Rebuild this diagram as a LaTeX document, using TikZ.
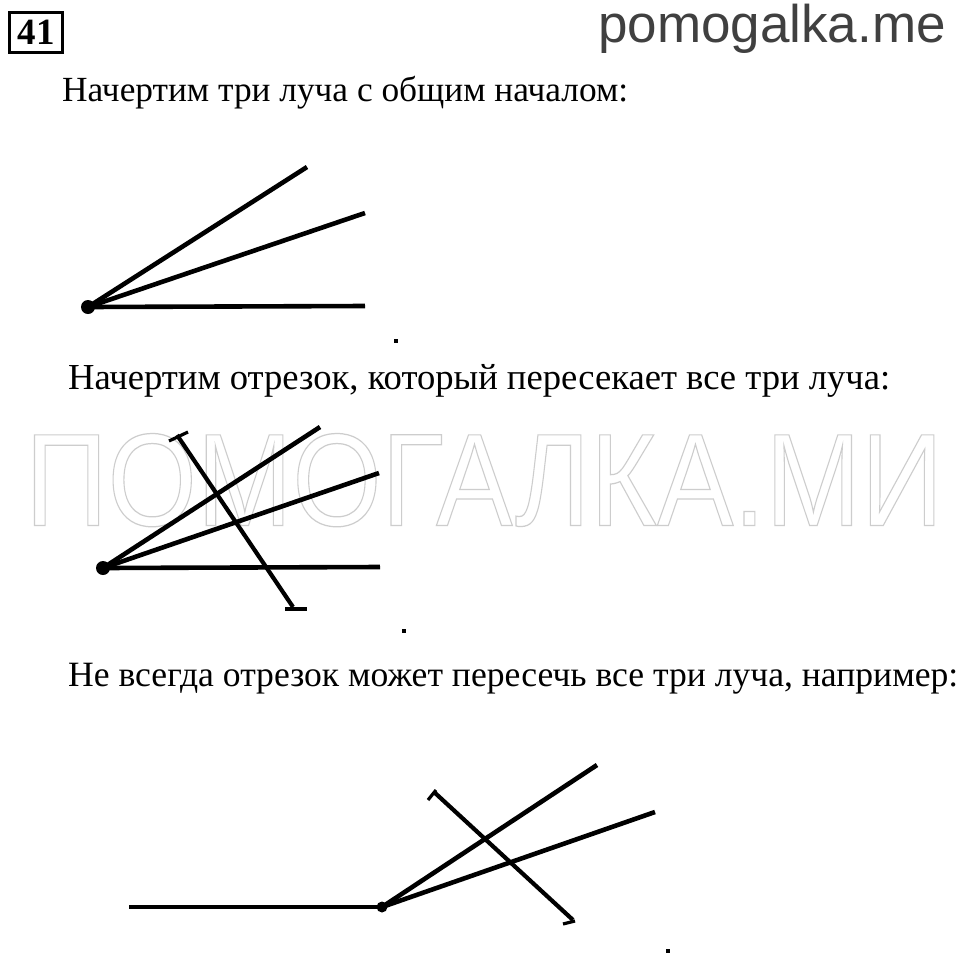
\documentclass[tikz,border=0pt]{standalone}
\usepackage{fontspec}
\setmainfont{Liberation Serif}
\newfontfamily\sitefont{Liberation Sans}
\newfontfamily\wmfont{Liberation Sans}
\definecolor{wmgray}{RGB}{205,205,205}
\definecolor{sitegray}{RGB}{64,64,64}
\begin{document}
\begin{tikzpicture}[x=1pt,y=-1pt,
  ray/.style={line width=4.6pt},
  seg/.style={line width=4.2pt},
  tick/.style={line width=3.2pt},
  pt/.style={rectangle,fill=black,inner sep=0pt,minimum size=4pt},
  origin/.style={circle,fill=black,inner sep=0pt,minimum size=14pt},
  txt/.style={anchor=base west,inner sep=0pt,font=\fontsize{36}{40}\selectfont}]
\fill[white] (0,0) rectangle (960,962);
\useasboundingbox (0,0) rectangle (960,962);
% watermark
\node[anchor=south west,inner sep=0pt,text=wmgray] (wm) at (25,527)
  {\resizebox{918pt}{92pt}{\wmfont\fontsize{128}{128}\selectfont\special{pdf:literal direct 1 Tr 1.2 w}ПОМОГАЛКА.МИ\special{pdf:literal direct 0 Tr}}};
% header
\node[draw,line width=2.4pt,minimum width=53pt,minimum height=40pt,inner sep=0pt,
  font=\bfseries\fontsize{37}{37}\selectfont] (num) at (36,32.5) {41};
\node[anchor=base east,inner sep=0pt,text=sitegray,font=\sitefont\fontsize{53}{53}\selectfont] (site) at (946,42) {pomogalka.me};
% texts
\node[txt] (t1) at (62,101) {\resizebox{566pt}{!}{Начертим три луча с общим началом:}};
\node[txt] (t2) at (68,389) {\resizebox{822pt}{!}{Начертим отрезок, который пересекает все три луча:}};
\node[txt] (t3) at (68,686) {\resizebox{890pt}{!}{Не всегда отрезок может пересечь все три луча, например:}};
% diagram 1
\coordinate (o1) at (88,307);
\coordinate (a1) at (307,167);
\coordinate (b1) at (365,213);
\coordinate (c1) at (365,306);
\draw[ray] (o1) -- (a1);
\draw[ray] (o1) -- (b1);
\draw[ray] (o1) -- (c1);
\node[origin] (O1) at (o1) {};
\node[pt] (d1) at (396,341) {};
% diagram 2
\coordinate (o2) at (103,568);
\coordinate (a2) at (320,427);
\coordinate (b2) at (379,473);
\coordinate (c2) at (380,567);
\draw[ray] (o2) -- (a2);
\draw[ray] (o2) -- (b2);
\draw[ray] (o2) -- (c2);
\node[origin] (O2) at (o2) {};
\coordinate (s2a) at (177,435);
\coordinate (s2b) at (293,607);
\draw[seg] (s2a) -- (s2b);
\coordinate (k2a) at (169,441);
\coordinate (k2b) at (188,432);
\draw[tick] (k2a) -- (k2b);
\coordinate (k2c) at (285,609);
\coordinate (k2d) at (307,609);
\draw[tick] (k2c) -- (k2d);
\node[pt] (d2) at (404,631) {};
% diagram 3
\coordinate (o3) at (382,907);
\coordinate (l3) at (129,907);
\coordinate (a3) at (597,765);
\coordinate (b3) at (655,812);
\draw[ray] (l3) -- (o3);
\draw[ray] (o3) -- (a3);
\draw[ray] (o3) -- (b3);
\node[origin,minimum size=11pt] (O3) at (o3) {};
\coordinate (s3a) at (434,792);
\coordinate (s3b) at (573,920);
\draw[seg] (s3a) -- (s3b);
\coordinate (k3a) at (428,800);
\coordinate (k3b) at (436,790);
\draw[tick] (k3a) -- (k3b);
\coordinate (k3c) at (563,924);
\coordinate (k3d) at (575,921);
\draw[tick] (k3c) -- (k3d);
\node[pt] (d3) at (668,951) {};
\end{tikzpicture}
\end{document}
